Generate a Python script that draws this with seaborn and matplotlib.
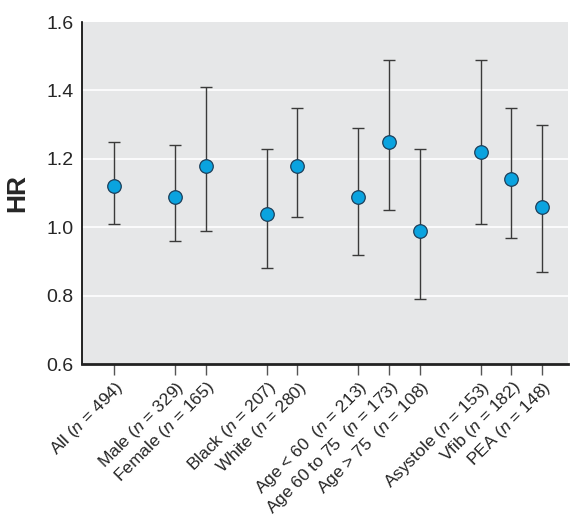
"""
Hazard ratios by subgroup with 95% CI.
"""

import matplotlib
matplotlib.use("Agg")
import matplotlib.pyplot as plt
import seaborn as sns
import numpy as np
import pandas as pd

# subgroup labels, split into visual groups (a gap is left between groups)
GROUPS = [
    ["All ($\\it{n}$ = 494)"],
    ["Male ($\\it{n}$ = 329)", "Female ($\\it{n}$ = 165)"],
    ["Black ($\\it{n}$ = 207)", "White ($\\it{n}$ = 280)"],
    ["Age < 60  ($\\it{n}$ = 213)", "Age 60 to 75  ($\\it{n}$ = 173)",
     "Age > 75  ($\\it{n}$ = 108)"],
    ["Asystole ($\\it{n}$ = 153)", "Vfib ($\\it{n}$ = 182)", "PEA ($\\it{n}$ = 148)"],
]

HR = [1.12, 1.09, 1.18, 1.04, 1.18, 1.09, 1.25, 0.99, 1.22, 1.14, 1.06]
CI_LOW = [1.01, 0.96, 0.99, 0.88, 1.03, 0.92, 1.05, 0.79, 1.01, 0.97, 0.87]
CI_HIGH = [1.25, 1.24, 1.41, 1.23, 1.35, 1.29, 1.49, 1.23, 1.49, 1.35, 1.30]
Y_TICKS = [0.6, 0.8, 1.0, 1.2, 1.4, 1.6]

FONT = "Liberation Sans"
POINT_COLOR = "#0AA3DF"
BG_COLOR = "#E6E7E8"


def build_frame() -> pd.DataFrame:
    labels, pos = [], []
    x = 0
    for g in GROUPS:
        for lab in g:
            labels.append(lab)
            pos.append(x)
            x += 1
        x += 1  # gap between groups
    return pd.DataFrame({"label": labels, "x": pos, "hr": HR,
                         "lo": CI_LOW, "hi": CI_HIGH})


def main() -> None:
    df = build_frame()

    sns.set_style("white")
    plt.rcParams["font.family"] = [FONT, "DejaVu Sans"]
    plt.rcParams["mathtext.fontset"] = "custom"
    plt.rcParams["mathtext.rm"] = FONT
    plt.rcParams["mathtext.it"] = FONT + ":italic"

    fig = plt.figure(figsize=(5.76, 5.24), dpi=100)
    ax = fig.add_axes([0.142, 0.305, 0.844, 0.653])
    ax.set_facecolor(BG_COLOR)

    for y in Y_TICKS[1:-1]:
        ax.axhline(y, color="white", linewidth=1.2, zorder=0)

    ax.errorbar(df["x"], df["hr"],
                yerr=[df["hr"] - df["lo"], df["hi"] - df["hr"]],
                fmt="none", ecolor="#3a3a3a", elinewidth=1.0,
                capsize=4, capthick=1.0, zorder=2)
    sns.scatterplot(data=df, x="x", y="hr", ax=ax, s=95, color=POINT_COLOR,
                    edgecolor="#1d3f5a", linewidth=0.9, zorder=3, legend=False)

    ax.set_xlim(-1.05, df["x"].max() + 0.85)
    ax.set_ylim(0.6, 1.6)
    ax.set_yticks(Y_TICKS)
    ax.set_yticklabels([f"{v:.1f}" for v in Y_TICKS], fontsize=14)
    ax.set_xticks(df["x"])
    ax.set_xticklabels(df["label"], rotation=45, ha="right",
                       rotation_mode="anchor", fontsize=12.5)
    ax.tick_params(axis="x", length=8, width=1.0, color="#555555",
                   direction="out", pad=2, bottom=True)
    ax.tick_params(axis="y", length=0, pad=6)

    ax.set_xlabel("")
    ax.set_ylabel("HR", fontsize=19, fontweight="bold", labelpad=12)

    for side in ["top", "right"]:
        ax.spines[side].set_visible(False)
    ax.spines["left"].set_color("black")
    ax.spines["left"].set_linewidth(1.2)
    ax.spines["bottom"].set_color("#222222")
    ax.spines["bottom"].set_linewidth(2.0)

    plt.savefig("out.png", dpi=100)
    plt.close()


if __name__ == "__main__":
    main()
